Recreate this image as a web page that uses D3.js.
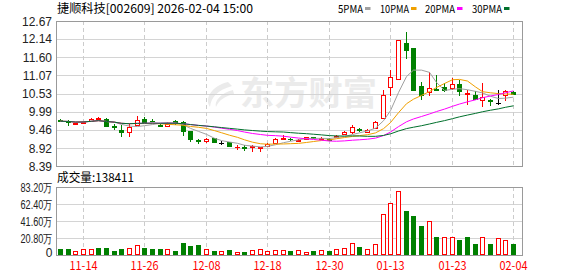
<!DOCTYPE html>
<html>
<head>
<meta charset="utf-8">
<script src="https://cdn.jsdelivr.net/npm/d3@7"></script>
<style>
body { margin: 0; background: #fff; }
svg { display: block; }
</style>
</head>
<body>
<svg width="578" height="276"></svg>
<script>
// trading days shown on the chart
var dates = ["11-11","11-12","11-13","11-14","11-17","11-18","11-19","11-20","11-21","11-24",
    "11-25","11-26","11-27","11-28","12-01","12-02","12-03","12-04","12-05","12-08",
    "12-09","12-10","12-11","12-12","12-15","12-16","12-17","12-18","12-19","12-22",
    "12-23","12-24","12-25","12-26","12-29","12-30","12-31","01-05","01-06","01-07",
    "01-08","01-09","01-12","01-13","01-14","01-15","01-16","01-19","01-20","01-21",
    "01-22","01-23","01-26","01-27","01-28","01-29","01-30","02-02","02-03","02-04"];

var openP = [9.76,9.73,9.63,9.66,9.71,9.79,9.79,9.58,9.46,9.38,
    9.60,9.77,9.73,9.61,9.57,9.71,9.69,9.41,9.15,9.12,
    9.21,9.07,9.10,8.94,8.94,8.96,8.93,8.98,9.07,9.20,
    9.20,9.14,9.19,9.24,9.19,9.20,9.24,9.32,9.38,9.48,
    9.40,9.51,9.81,10.72,10.96,12.02,11.87,10.74,10.56,10.65,
    10.72,10.69,10.81,10.52,10.50,10.35,10.33,10.26,10.48,10.57];
var highP = [9.77,9.74,9.67,9.71,9.81,9.85,9.81,9.63,9.59,9.66,
    9.88,9.84,9.78,9.63,9.69,9.74,9.71,9.43,9.20,9.23,
    9.23,9.13,9.11,9.01,9.00,9.02,8.96,9.07,9.21,9.30,
    9.22,9.18,9.26,9.26,9.25,9.21,9.30,9.42,9.59,9.50,
    9.48,9.71,10.64,11.23,12.12,12.35,11.87,10.86,11.17,11.07,
    10.85,10.99,10.94,10.64,10.59,10.85,10.38,10.64,10.62,10.61];
var lowP = [9.68,9.56,9.61,9.64,9.70,9.74,9.53,9.45,9.26,9.25,
    9.58,9.67,9.69,9.53,9.55,9.61,9.29,9.09,9.04,9.08,
    9.08,9.02,8.97,8.87,8.83,8.81,8.79,8.97,9.05,9.15,
    9.12,9.12,9.18,9.18,9.15,9.15,9.22,9.30,9.32,9.40,
    9.39,9.49,9.80,10.47,10.96,11.55,10.64,10.35,10.47,10.59,
    10.58,10.62,10.45,10.19,10.33,10.14,10.15,10.20,10.32,10.49];
var closeP = [9.71,9.70,9.65,9.70,9.79,9.82,9.56,9.54,9.38,9.54,
    9.75,9.69,9.71,9.58,9.64,9.68,9.41,9.19,9.14,9.20,
    9.10,9.07,8.98,8.95,8.91,8.98,8.95,9.05,9.20,9.21,
    9.19,9.16,9.25,9.22,9.21,9.17,9.29,9.40,9.53,9.45,
    9.46,9.69,10.50,11.02,12.12,11.82,10.64,10.50,10.69,10.63,
    10.64,10.81,10.59,10.54,10.38,10.42,10.31,10.26,10.59,10.53];

var volume = [73000,73000,49000,73000,73000,86000,86000,53000,73000,90000,
    118000,86000,73000,73000,73000,53000,147000,114000,122000,73000,
    49000,49000,61000,37000,37000,61000,69000,49000,61000,61000,
    49000,61000,33000,49000,61000,49000,69000,81000,143000,94000,
    69000,131000,498000,632000,779000,538000,477000,355000,412000,220000,
    216000,216000,184000,220000,135000,220000,135000,204000,184000,138411];
// days whose volume bar colour is the opposite of the candle colour
var volFlip = [5, 50, 53];

var priceTicks = [8.39, 8.92, 9.46, 9.99, 10.53, 11.07, 11.60, 12.14, 12.67];
var volTicks = [0, 208000, 416000, 624000, 832000];
var volTickLabels = ["0", "20.80万", "41.60万", "62.40万", "83.20万"];
var dateTicks = ["11-14", "11-26", "12-08", "12-18", "12-30", "01-13", "01-23", "02-04"];

var maPeriods = [5, 10, 20, 30];
var maNames = ["5PMA", "10PMA", "20PMA", "30PMA"];

var colUp = "#ff0000", colDown = "#008000", colFlat = "#000000";
var maColors = ["#a0a0a0", "#f0a000", "#ff00ff", "#00702c"];
var cjk = "'Noto Sans CJK SC', sans-serif";

var svg = d3.select("svg");
var left = 56, right = 522;

var x = d3.scaleBand().domain(dates).range([left, 517]);
var y = d3.scaleLinear().domain([8.39, 12.67]).range([166, 21]);
var yv = d3.scaleLinear().domain([0, 832000]).range([255, 187]);

function cx(d) { return Math.round(x(d) + x.bandwidth() / 2) + 0.5; }

// watermark
var wm = svg.append("g").attr("fill", "#ebebeb");
wm.append("path").attr("d", "M228,82 C212,86 204,98 210,107 C211,97 218,90 232,86 Z");
wm.append("path").attr("d", "M233,90 C221,93 214,101 216,107 C219,100 225,96 234,94 Z");
wm.append("text").attr("x", 240).attr("y", 105)
    .attr("font-family", cjk).attr("font-size", 33).attr("font-weight", "bold")
    .attr("textLength", 137).attr("lengthAdjust", "spacingAndGlyphs")
    .text("东方财富");

// horizontal grid
svg.append("g").selectAll("line").data(priceTicks.slice(1, -1)).enter().append("line")
    .attr("x1", left).attr("x2", right)
    .attr("y1", function (d) { return Math.round(y(d)) + 0.5; })
    .attr("y2", function (d) { return Math.round(y(d)) + 0.5; })
    .attr("stroke", "#d4d4d4");
svg.append("g").selectAll("line").data(volTicks.slice(1, -1)).enter().append("line")
    .attr("x1", left).attr("x2", right)
    .attr("y1", function (d) { return Math.round(yv(d)) + 0.5; })
    .attr("y2", function (d) { return Math.round(yv(d)) + 0.5; })
    .attr("stroke", "#d4d4d4");

// vertical dashed grid
[[21, 166], [187, 255]].forEach(function (r) {
    svg.append("g").selectAll("line").data(dateTicks).enter().append("line")
        .attr("x1", cx).attr("x2", cx)
        .attr("y1", r[0]).attr("y2", r[1])
        .attr("stroke", "#cccccc").attr("stroke-dasharray", "4,3");
});

// frames
[[21, 166], [187, 255]].forEach(function (r) {
    svg.append("rect").attr("x", left + 0.5).attr("y", r[0] + 0.5)
        .attr("width", right - left).attr("height", r[1] - r[0])
        .attr("fill", "none").attr("stroke", "#9a9a9a");
});

// axis labels
svg.append("g").selectAll("text").data(priceTicks).enter().append("text")
    .attr("x", 52).attr("y", function (d) { return y(d) + 4.5; })
    .attr("text-anchor", "end").attr("font-family", "'Liberation Sans', Arial, sans-serif")
    .attr("font-size", 12).attr("fill", "#222")
    .text(function (d) { return d.toFixed(2); });

svg.append("g").selectAll("text").data(volTicks).enter().append("text")
    .attr("x", 52.5).attr("y", function (d, i) { return yv(d) + (i ? 4.5 : 2); })
    .attr("text-anchor", "end").attr("font-family", "'Liberation Sans', Arial, sans-serif")
    .attr("font-size", 12).attr("fill", "#222")
    .each(function (d, i) {
        if (i) d3.select(this).attr("textLength", 32).attr("lengthAdjust", "spacingAndGlyphs");
    })
    .text(function (d, i) { return volTickLabels[i]; });

svg.append("g").selectAll("text").data(dateTicks).enter().append("text")
    .attr("x", cx).attr("y", 270)
    .attr("text-anchor", "middle").attr("font-family", cjk)
    .attr("font-size", 12).attr("fill", "#ff0000")
    .attr("textLength", 28).attr("lengthAdjust", "spacingAndGlyphs")
    .text(function (d) { return d; });

// title, legend, volume caption
svg.append("text").attr("x", 57).attr("y", 13)
    .attr("font-family", cjk).attr("font-size", 12).attr("fill", "#000")
    .attr("textLength", 196).attr("lengthAdjust", "spacingAndGlyphs")
    .text("捷顺科技[002609] 2026-02-04 15:00");

var legX = [338, 380, 425, 472], legW = [25, 29, 30, 30];
maNames.forEach(function (n, i) {
    svg.append("text").attr("x", legX[i]).attr("y", 12.5)
        .attr("font-family", cjk).attr("font-size", 11).attr("fill", "#000")
        .attr("textLength", legW[i]).attr("lengthAdjust", "spacingAndGlyphs")
        .text(n);
    svg.append("rect").attr("x", legX[i] + legW[i] + 2).attr("y", 7)
        .attr("width", 5.5).attr("height", 3).attr("fill", maColors[i]);
});

svg.append("text").attr("x", 57).attr("y", 182)
    .attr("font-family", cjk).attr("font-size", 12).attr("fill", "#000")
    .attr("textLength", 77).attr("lengthAdjust", "spacingAndGlyphs")
    .text("成交量:" + volume[volume.length - 1]);

// candles
var data = dates.map(function (d, i) {
    return {date: d, o: openP[i], h: highP[i], l: lowP[i], c: closeP[i], v: volume[i], i: i};
});
function dir(d) { return d.c > d.o ? 1 : (d.c < d.o ? -1 : 0); }
function colOf(s) { return s > 0 ? colUp : (s < 0 ? colDown : colFlat); }

var cg = svg.append("g");
data.forEach(function (d) {
    var s = dir(d), col = colOf(s), px = cx(d.date);
    var yt = Math.round(y(Math.max(d.o, d.c))), yb = Math.round(y(Math.min(d.o, d.c)));
    cg.append("line").attr("x1", px).attr("x2", px)
        .attr("y1", Math.round(y(d.h))).attr("y2", Math.round(y(d.l)))
        .attr("stroke", col);
    if (yb - yt < 1) {
        cg.append("line").attr("x1", px - 2.5).attr("x2", px + 2.5)
            .attr("y1", yt + 0.5).attr("y2", yt + 0.5).attr("stroke", col);
    } else if (s > 0) {
        cg.append("rect").attr("x", px - 2).attr("y", yt + 0.5)
            .attr("width", 4).attr("height", yb - yt)
            .attr("fill", "#fff").attr("stroke", col);
    } else {
        cg.append("rect").attr("x", px - 2.5).attr("y", yt)
            .attr("width", 5).attr("height", yb - yt + 1).attr("fill", col);
    }
});

// volume bars
var vg = svg.append("g");
data.forEach(function (d) {
    var up = dir(d) >= 0;
    if (volFlip.indexOf(d.i) >= 0) up = !up;
    var px = cx(d.date), yt = Math.round(yv(d.v));
    if (up) {
        vg.append("rect").attr("x", px - 2).attr("y", yt + 0.5)
            .attr("width", 4).attr("height", 254 - yt)
            .attr("fill", "#fff").attr("stroke", colUp);
    } else {
        vg.append("rect").attr("x", px - 2.5).attr("y", yt)
            .attr("width", 5).attr("height", 255 - yt).attr("fill", colDown);
    }
});

// moving averages of the close
maPeriods.forEach(function (p, k) {
    var ma = closeP.map(function (c, i) {
        return d3.mean(closeP.slice(Math.max(0, i - p + 1), i + 1));
    });
    var line = d3.line()
        .x(function (d, i) { return cx(dates[i]); })
        .y(function (d) { return y(d); });
    svg.append("path").datum(ma).attr("d", line)
        .attr("fill", "none").attr("stroke", maColors[k]).attr("stroke-width", 1);
});
</script>
</body>
</html>
